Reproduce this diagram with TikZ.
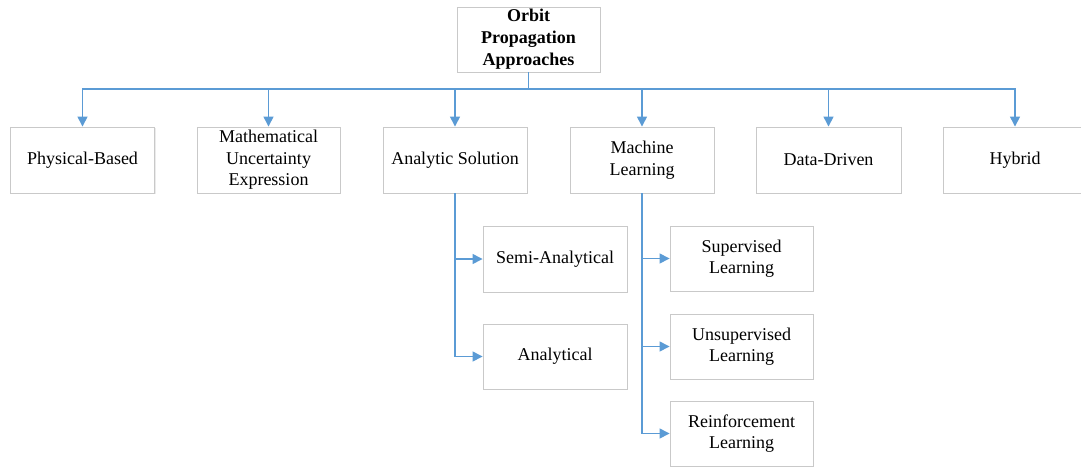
\documentclass[tikz,border=0pt]{standalone}
\usepackage{fontspec}
\setmainfont{Liberation Serif}
\usetikzlibrary{arrows.meta,shadows}
\definecolor{linkblue}{HTML}{5B9BD5}
\definecolor{boxgray}{HTML}{C9C9C9}
\tikzset{
  box/.style={draw=boxgray, line width=0.9pt, fill=white, align=center,
    minimum width=144pt, minimum height=66pt, inner sep=2pt,
    font=\fontsize{18}{21.5}\selectfont,
    drop shadow={shadow xshift=1.2pt, shadow yshift=-1.2pt, fill=black, opacity=0.08}},
  titlebox/.style={box, minimum width=143pt, minimum height=65pt,
    font=\fontsize{18}{22}\selectfont\bfseries},
  link/.style={draw=linkblue, line width=1.4pt},
  arr/.style={link, -{Triangle[length=10pt,width=10pt]}}
}
\begin{document}
\begin{tikzpicture}[x=1pt,y=-1pt]
\useasboundingbox (0,0) rectangle (1081,471);
\clip (0,0) rectangle (1081,471);
\node[titlebox] (top) at (528.5,39.5) {Orbit\\Propagation\\Approaches};
\node[box] (pb) at (82.5,160) {Physical-Based};
\node[box, minimum width=143pt] (mue) at (268.5,160) {Mathematical\\Uncertainty\\Expression};
\node[box] (as) at (455,160) {Analytic Solution};
\node[box] (ml) at (642,160) {Machine\\Learning};
\node[box, minimum width=145pt] (dd) at (828.5,160) {Data-Driven};
\node[box] (hy) at (1015,160) {Hybrid};
\node[box] (semi) at (555,259) {Semi-Analytical};
\node[box, minimum height=65pt] (anal) at (555,356.5) {Analytical};
\node[box, minimum width=143pt, minimum height=65pt] (sup) at (741.5,258.5) {Supervised\\Learning};
\node[box, minimum width=143pt, minimum height=65pt] (uns) at (741.5,346.5) {Unsupervised\\Learning};
\node[box, minimum width=143pt, minimum height=65pt] (rein) at (741.5,433.5) {Reinforcement\\Learning};
\coordinate (bus) at (528.5,89);
\draw[link] (top.south) -- (bus);
\foreach \n in {pb,mue,as,ml,dd,hy}{
  \draw[arr] (bus) -| (\n.north);
}
\draw[arr] (as.south) |- (semi.west);
\draw[arr] (as.south) |- (anal.west);
\draw[arr] (ml.south) |- (sup.west);
\draw[arr] (ml.south) |- (uns.west);
\draw[arr] (ml.south) |- (rein.west);
\end{tikzpicture}
\end{document}
